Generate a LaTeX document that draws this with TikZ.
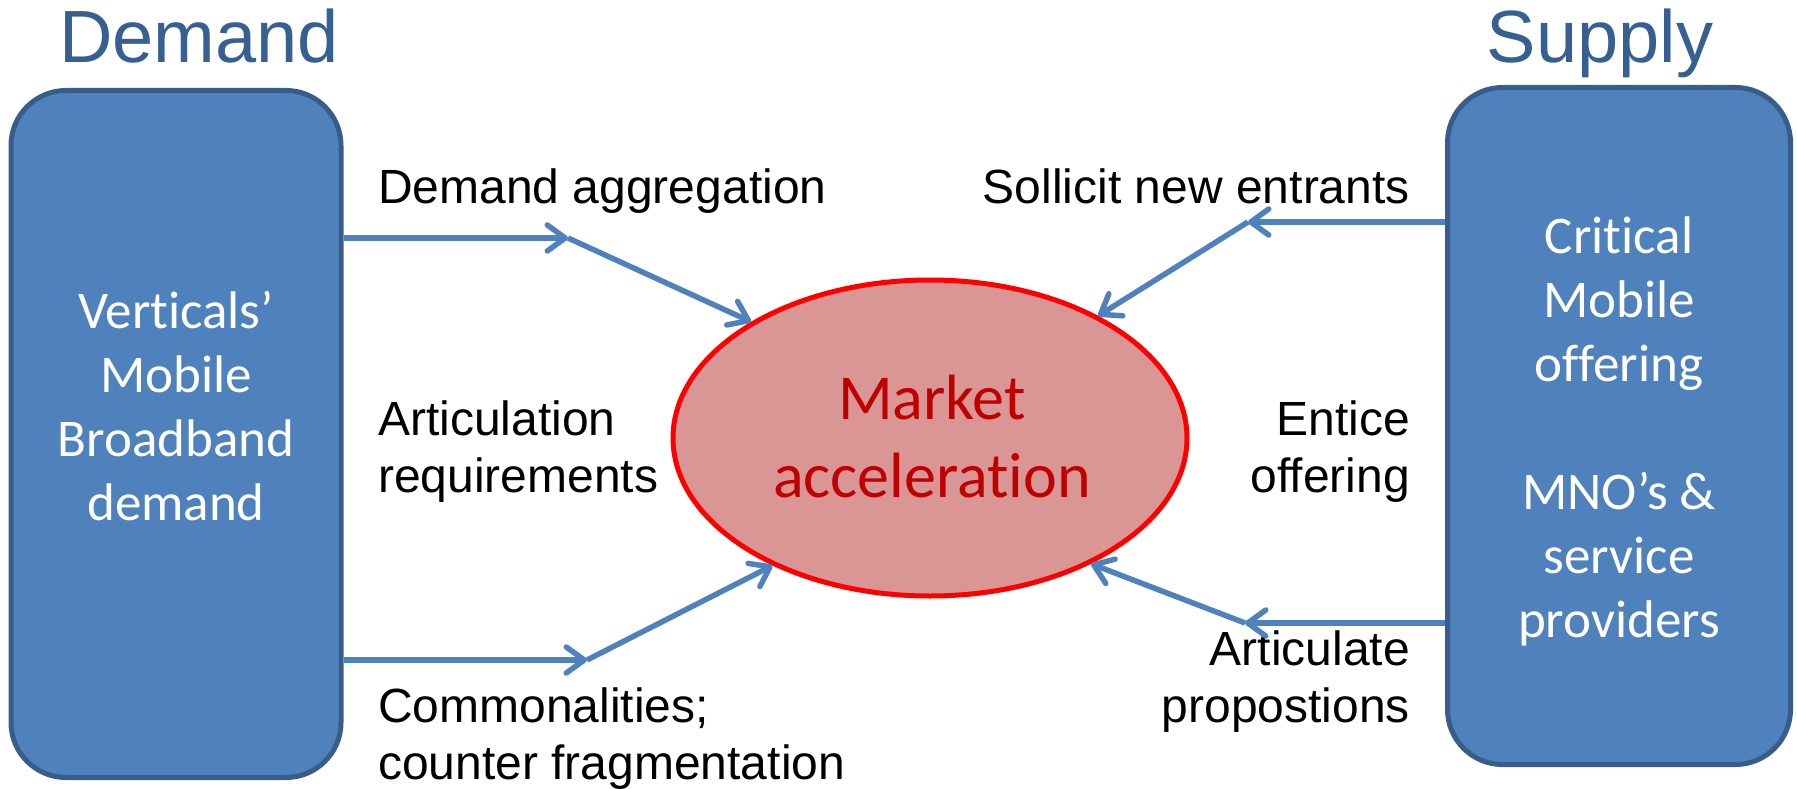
\documentclass[tikz,border=0pt]{standalone}
\usepackage{fontspec}
\setmainfont{Liberation Sans}
\newfontfamily\calib[Ligatures=NoCommon]{Carlito}
\usetikzlibrary{arrows.meta,shapes.geometric}
\definecolor{boxfill}{RGB}{79,129,189}
\definecolor{boxline}{RGB}{56,93,138}
\definecolor{titleblue}{RGB}{54,96,146}
\definecolor{ellfill}{RGB}{217,150,148}
\definecolor{ellline}{RGB}{255,0,0}
\definecolor{darkred}{RGB}{192,0,0}
\definecolor{arrowblue}{RGB}{79,129,189}
\begin{document}
\begin{tikzpicture}[x=1pt,y=-1pt,
  sidebox/.style={draw=boxline, line width=5pt, fill=boxfill, rounded corners=55pt, inner sep=0pt},
  boxtext/.style={font=\calib\fontsize{53}{64}\selectfont, text=white, align=center, inner sep=0pt},
  titletext/.style={font=\fontsize{74}{85}\selectfont, text=titleblue, inner sep=0pt},
  lbl/.style={font=\fontsize{48}{57}\selectfont, inner sep=0pt},
  arr/.style={draw=arrowblue, line width=5.5pt, -{Straight Barb[length=18pt,width=26pt,round]}},
]
\useasboundingbox (0,0) rectangle (1797,789);
% boxes
\node[sidebox, minimum width=330pt, minimum height=687pt] (L) at (176,434) {};
\node[sidebox, minimum width=343pt, minimum height=677pt] (R) at (1619,426) {};
\node[boxtext, anchor=base] (Ltext) at (176,520) {Verticals’\\Mobile\\Broadband\\demand};
\node[boxtext, anchor=base] (Rtext) at (1619,637) {Critical\\Mobile\\offering\\[64pt]MNO’s \&\\service\\providers};
% titles
\node[titletext, anchor=base] (demand) at (199,63) {Demand};
\node[titletext, anchor=base] (supply) at (1600,63) {Supply};
% ellipse
\node[ellipse, draw=ellline, fill=ellfill, line width=5pt, minimum width=514pt, minimum height=316pt, inner sep=0pt] (E) at (930,438) {};
\node[font=\calib\fontsize{64}{78}\selectfont, text=darkred, align=center, inner sep=0pt, anchor=base] (Etext) at (932,497) {Market\\acceleration};
% labels
\node[lbl, anchor=base west] (agg) at (378,203) {Demand aggregation};
\node[lbl, anchor=base east] (soll) at (1410,203) {Sollicit new entrants};
\node[lbl, anchor=base west, align=left] (artreq) at (378,492) {Articulation\\requirements};
\node[lbl, anchor=base east, align=right] (entice) at (1410,492) {Entice\\offering};
\node[lbl, anchor=base west, align=left] (comm) at (378,779) {Commonalities;\\counter fragmentation};
\node[lbl, anchor=base east, align=right] (artprop) at (1410,722) {Articulate\\propostions};
% connectors
\coordinate (a1) at (568,238);
\coordinate (a2) at (587,660);
\coordinate (b1) at (1248,222);
\coordinate (b2) at (1245,623);
\draw[arr] (L.east |- a1) -- (a1);
\draw[arr] (a1) -- (E.147);
\draw[arr] (L.east |- a2) -- (a2);
\draw[arr] (a2) -- (E.219);
\draw[arr] (R.west |- b1) -- (b1);
\draw[arr] (b1) -- (E.36.5);
\draw[arr] (R.west |- b2) -- (b2);
\draw[arr] (b2) -- (E.-38);
\end{tikzpicture}
\end{document}
